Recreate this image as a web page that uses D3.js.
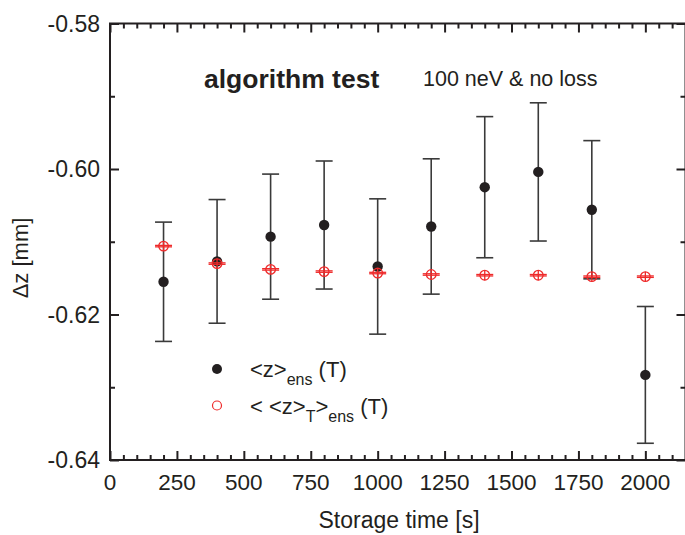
<!DOCTYPE html>
<html>
<head>
<meta charset="utf-8">
<title>algorithm test</title>
<script src="https://d3js.org/d3.v7.min.js"></script>
<style>
  body { margin: 0; background: #fff; }
  text { font-family: "Liberation Sans", Arial, sans-serif; fill: #231f20; }
</style>
</head>
<body>
<div id="chart"></div>
<script>
// storage times [s]
var times = [200, 400, 600, 800, 1000, 1200, 1400, 1600, 1800, 2000];
// <z>_ens (T) and its error [mm]
var zEns    = [-0.6155, -0.6127, -0.6093, -0.6077, -0.6134, -0.6079, -0.6025, -0.6004, -0.6056, -0.6283];
var zEnsErr = [0.0082, 0.0085, 0.0086, 0.0088, 0.0093, 0.0093, 0.0097, 0.0095, 0.0095, 0.0094];
// < <z>_T >_ens (T) and its error [mm]
var zT    = [-0.6106, -0.6130, -0.6138, -0.6141, -0.6143, -0.6145, -0.6146, -0.6146, -0.6148, -0.6148];
var zTErr = [0.0001, 0.0001, 0.0001, 0.0001, 0.0001, 0.0001, 0.0001, 0.0001, 0.0001, 0.0001];
// axis ticks
var xMajor = [0, 250, 500, 750, 1000, 1250, 1500, 1750, 2000];
var yMajor = [-0.58, -0.60, -0.62, -0.64];
var yLabels = ["-0.58", "-0.60", "-0.62", "-0.64"];
var yMinor = [-0.59, -0.61, -0.63];

var W = 685, H = 535;
var svg = d3.select("#chart").append("svg")
    .attr("width", W).attr("height", H);

var x = d3.scaleLinear().domain([0, 2150]).range([110, 685.5]);
var y = d3.scaleLinear().domain([-0.64, -0.58]).range([460, 23.5]);

var xMinor = d3.range(0, 2151, 50).filter(function (v) { return v % 250 !== 0; });
var axisColor = "#231f20";

// axes: all ticks point into the plot
function drawAxis(axis, pos, tickVals, size) {
    svg.append("g")
        .attr("transform", pos)
        .call(axis.tickValues(tickVals).tickSize(size).tickFormat(""))
        .call(function (g) {
            g.select(".domain").remove();
            g.selectAll("line").attr("stroke", axisColor).attr("stroke-width", 2);
        });
}
drawAxis(d3.axisTop(x), "translate(0,460)", xMajor, 9);
drawAxis(d3.axisTop(x), "translate(0,460)", xMinor, 5);
drawAxis(d3.axisBottom(x), "translate(0,23.5)", xMajor, 9);
drawAxis(d3.axisBottom(x), "translate(0,23.5)", xMinor, 5);
drawAxis(d3.axisRight(y), "translate(110,0)", yMajor, 9);
drawAxis(d3.axisRight(y), "translate(110,0)", yMinor, 5);
drawAxis(d3.axisLeft(y), "translate(685.5,0)", yMajor, 9);
drawAxis(d3.axisLeft(y), "translate(685.5,0)", yMinor, 5);

// frame
svg.append("rect")
    .attr("x", 110).attr("y", 23.5)
    .attr("width", 575.5).attr("height", 436.5)
    .attr("fill", "none").attr("stroke", axisColor).attr("stroke-width", 2);

// tick labels
svg.selectAll(".xlab").data(xMajor).enter().append("text")
    .attr("x", function (d) { return x(d); })
    .attr("y", 490)
    .attr("text-anchor", "middle")
    .style("font-size", "22.5px")
    .text(function (d) { return d; });

svg.selectAll(".ylab").data(yMajor).enter().append("text")
    .attr("x", 100)
    .attr("y", function (d) { return y(d) + 8; })
    .attr("text-anchor", "end")
    .style("font-size", "23px")
    .text(function (d, i) { return yLabels[i]; });

// axis titles
svg.append("text")
    .attr("x", 399).attr("y", 528)
    .attr("text-anchor", "middle")
    .style("font-size", "23px")
    .text("Storage time [s]");

svg.append("text")
    .attr("transform", "translate(28,258) rotate(-90)")
    .attr("text-anchor", "middle")
    .style("font-size", "22px")
    .text("\u0394z [mm]");

// black series error bars
var capW = 8.5;
var black = times.map(function (t, i) { return { t: t, v: zEns[i], e: zEnsErr[i] }; });
var red = times.map(function (t, i) { return { t: t, v: zT[i], e: zTErr[i] }; });

var gB = svg.append("g").attr("stroke", "#3a3a3a").attr("stroke-width", 1.6);
gB.selectAll(".v").data(black).enter().append("line")
    .attr("x1", function (d) { return x(d.t); }).attr("x2", function (d) { return x(d.t); })
    .attr("y1", function (d) { return y(d.v + d.e); }).attr("y2", function (d) { return y(d.v - d.e); });
gB.selectAll(".ct").data(black).enter().append("line")
    .attr("x1", function (d) { return x(d.t) - capW; }).attr("x2", function (d) { return x(d.t) + capW; })
    .attr("y1", function (d) { return y(d.v + d.e); }).attr("y2", function (d) { return y(d.v + d.e); });
gB.selectAll(".cb").data(black).enter().append("line")
    .attr("x1", function (d) { return x(d.t) - capW; }).attr("x2", function (d) { return x(d.t) + capW; })
    .attr("y1", function (d) { return y(d.v - d.e); }).attr("y2", function (d) { return y(d.v - d.e); });

svg.selectAll(".dot").data(black).enter().append("circle")
    .attr("cx", function (d) { return x(d.t); })
    .attr("cy", function (d) { return y(d.v); })
    .attr("r", 5.2)
    .attr("fill", "#231f20");

// red series: open circles with (very small) error bars
var gR = svg.append("g").attr("stroke", "#ee2a2a").attr("stroke-width", 1.3).attr("fill", "none");
gR.selectAll(".v").data(red).enter().append("line")
    .attr("x1", function (d) { return x(d.t); }).attr("x2", function (d) { return x(d.t); })
    .attr("y1", function (d) { return y(d.v) - 5; }).attr("y2", function (d) { return y(d.v) + 5; });
gR.selectAll(".ct").data(red).enter().append("line")
    .attr("x1", function (d) { return x(d.t) - capW; }).attr("x2", function (d) { return x(d.t) + capW; })
    .attr("y1", function (d) { return y(d.v + d.e); }).attr("y2", function (d) { return y(d.v + d.e); });
gR.selectAll(".cb").data(red).enter().append("line")
    .attr("x1", function (d) { return x(d.t) - capW; }).attr("x2", function (d) { return x(d.t) + capW; })
    .attr("y1", function (d) { return y(d.v - d.e); }).attr("y2", function (d) { return y(d.v - d.e); });
gR.selectAll(".c").data(red).enter().append("circle")
    .attr("cx", function (d) { return x(d.t); })
    .attr("cy", function (d) { return y(d.v); })
    .attr("r", 4.8);

// titles in plot
svg.append("text")
    .attr("x", 204).attr("y", 88)
    .style("font-size", "26.5px").style("font-weight", "bold")
    .text("algorithm test");
svg.append("text")
    .attr("x", 423).attr("y", 86)
    .style("font-size", "21.5px")
    .text("100 neV & no loss");

// legend
svg.append("circle").attr("cx", 217).attr("cy", 369).attr("r", 5).attr("fill", "#231f20");
svg.append("circle").attr("cx", 217).attr("cy", 405.5).attr("r", 4.5)
    .attr("fill", "none").attr("stroke", "#ee2a2a").attr("stroke-width", 1.2);

var l1 = svg.append("text").attr("x", 250).attr("y", 377).style("font-size", "22px");
l1.append("tspan").text("<z>");
l1.append("tspan").attr("dy", 8).style("font-size", "16px").text("ens");
l1.append("tspan").attr("dy", -8).text(" (T)");

var l2 = svg.append("text").attr("x", 250).attr("y", 414).style("font-size", "22px");
l2.append("tspan").text("< <z>");
l2.append("tspan").attr("dy", 8).style("font-size", "16px").text("T");
l2.append("tspan").attr("dy", -8).text(">");
l2.append("tspan").attr("dy", 8).style("font-size", "16px").text("ens");
l2.append("tspan").attr("dy", -8).text(" (T)");
</script>
</body>
</html>
